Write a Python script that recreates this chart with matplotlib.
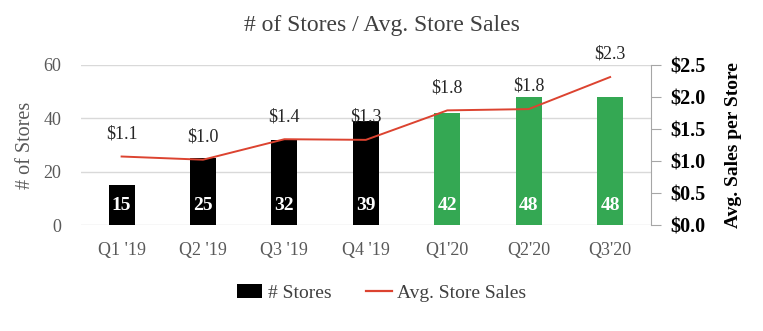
import matplotlib.pyplot as plt
from matplotlib.patches import Patch
from matplotlib.lines import Line2D

plt.rcParams['font.family'] = ['Liberation Serif', 'DejaVu Serif']

# data
quarters = ["Q1 '19", "Q2 '19", "Q3 '19", "Q4 '19", "Q1'20", "Q2'20", "Q3'20"]
stores = [15, 25, 32, 39, 42, 48, 48]
avg_sales = [1.07, 1.02, 1.34, 1.33, 1.79, 1.81, 2.31]
sales_labels = ["$1.1", "$1.0", "$1.4", "$1.3", "$1.8", "$1.8", "$2.3"]
bar_colors = ['black'] * 4 + ['#34a853'] * 3

gray = '#595959'
red = '#dc4330'

fig = plt.figure(figsize=(7.63, 3.31), dpi=100)
ax = fig.add_axes([0.106, 0.320, 0.747, 0.484])
x = range(len(quarters))

# bars
ax.bar(x, stores, width=0.32, color=bar_colors, zorder=3)
for i, v in enumerate(stores):
    ax.text(i, 7.4, str(v), ha='center', va='center', color='white',
            fontsize=14, fontweight='bold', zorder=4)

ax.set_ylim(0, 60)
ax.set_xlim(-0.5, 6.5)
ax.set_yticks([0, 20, 40, 60])
ax.grid(axis='y', color='#d9d9d9', linewidth=1, zorder=0)
for s in ['left', 'right', 'top', 'bottom']:
    ax.spines[s].set_visible(False)
ax.tick_params(axis='y', length=0, labelsize=13, labelcolor=gray, pad=14)
ax.tick_params(axis='x', length=0, labelsize=13, labelcolor=gray, pad=12)
ax.set_xticks(list(x))
ax.set_xticklabels(quarters)
ax.set_ylabel('# of Stores', fontsize=14.5, color=gray, labelpad=6)

# line on right axis
ax2 = ax.twinx()
ax2.plot(x, avg_sales, color=red, linewidth=1.4, zorder=5)
for i, v in enumerate(avg_sales):
    ax2.text(i, v + 0.22, sales_labels[i], ha='center', va='bottom',
             fontsize=13, color='#262626')
ax2.set_ylim(0, 2.5)
ax2.set_yticks([0, 0.5, 1.0, 1.5, 2.0, 2.5])
ax2.set_yticklabels(['$0.0', '$0.5', '$1.0', '$1.5', '$2.0', '$2.5'])
for s in ['left', 'top', 'bottom']:
    ax2.spines[s].set_visible(False)
ax2.spines['right'].set_color('#a6a6a6')
ax2.tick_params(axis='y', length=7, color='#a6a6a6', labelsize=14.5,
                labelcolor='black', pad=7)
for t in ax2.get_yticklabels():
    t.set_fontweight('bold')
ax2.set_ylabel('Avg. Sales per Store', fontsize=14, fontweight='bold',
               color='black', labelpad=14)

fig.suptitle('# of Stores / Avg. Store Sales', x=0.5, y=0.955,
             fontsize=17, color='#404040')

handles = [Patch(facecolor='black'), Line2D([0], [0], color=red, lw=1.6)]
fig.legend(handles, ['# Stores', 'Avg. Store Sales'], loc='center',
           bbox_to_anchor=(0.5, 0.115), ncol=2, frameon=False, fontsize=14,
           labelcolor='#404040', handlelength=1.3, handletextpad=0.3,
           columnspacing=1.8)

fig.savefig('out.png', dpi=100)
